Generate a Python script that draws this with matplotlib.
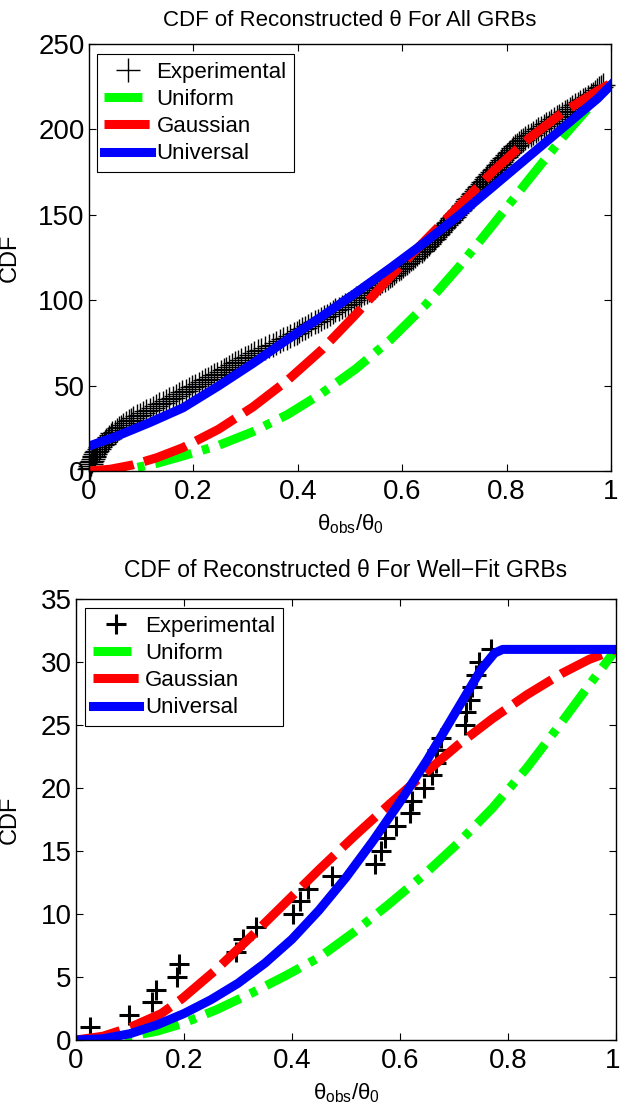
import numpy as np
import matplotlib
matplotlib.use("Agg")
import matplotlib.pyplot as plt
import matplotlib.transforms as mtransforms

plt.rcParams['font.family'] = ['Liberation Sans', 'DejaVu Sans']
plt.rcParams['mathtext.fontset'] = 'custom'
plt.rcParams['mathtext.rm'] = 'Liberation Sans'
plt.rcParams['mathtext.it'] = 'Liberation Sans'
plt.rcParams['mathtext.bf'] = 'Liberation Sans:bold'

# Data: all GRBs ----------------------------------------------------------------
# experimental theta_obs/theta_0 (sorted), one value per GRB
all_exp_x = [
    0.000, 0.001, 0.002, 0.003, 0.004, 0.006, 0.007, 0.009, 0.010, 0.012,
    0.014, 0.016, 0.019, 0.022, 0.025, 0.028, 0.031, 0.033, 0.036, 0.039,
    0.042, 0.045, 0.049, 0.053, 0.057, 0.061, 0.066, 0.071, 0.076, 0.081,
    0.085, 0.091, 0.098, 0.104, 0.110, 0.117, 0.123, 0.129, 0.135, 0.142,
    0.148, 0.154, 0.160, 0.166, 0.172, 0.179, 0.186, 0.192, 0.198, 0.204,
    0.210, 0.216, 0.222, 0.228, 0.234, 0.240, 0.246, 0.252, 0.258, 0.263,
    0.269, 0.274, 0.280, 0.286, 0.292, 0.298, 0.304, 0.310, 0.316, 0.323,
    0.330, 0.338, 0.345, 0.352, 0.358, 0.365, 0.372, 0.380, 0.386, 0.392,
    0.398, 0.403, 0.409, 0.414, 0.420, 0.426, 0.432, 0.438, 0.444, 0.450,
    0.456, 0.461, 0.467, 0.472, 0.478, 0.484, 0.490, 0.496, 0.501, 0.507,
    0.512, 0.517, 0.522, 0.527, 0.532, 0.537, 0.542, 0.547, 0.552, 0.557,
    0.562, 0.567, 0.572, 0.577, 0.581, 0.585, 0.589, 0.593, 0.597, 0.601,
    0.605, 0.609, 0.613, 0.617, 0.621, 0.625, 0.629, 0.633, 0.637, 0.641,
    0.644, 0.648, 0.651, 0.654, 0.657, 0.660, 0.663, 0.666, 0.669, 0.672,
    0.675, 0.678, 0.681, 0.684, 0.687, 0.690, 0.693, 0.696, 0.699, 0.702,
    0.705, 0.708, 0.711, 0.714, 0.716, 0.719, 0.722, 0.724, 0.727, 0.730,
    0.733, 0.736, 0.738, 0.741, 0.744, 0.747, 0.749, 0.752, 0.755, 0.758,
    0.760, 0.763, 0.766, 0.769, 0.772, 0.775, 0.778, 0.781, 0.784, 0.787,
    0.789, 0.792, 0.795, 0.798, 0.801, 0.804, 0.807, 0.810, 0.813, 0.816,
    0.820, 0.824, 0.828, 0.832, 0.836, 0.841, 0.846, 0.851, 0.856, 0.861,
    0.866, 0.871, 0.876, 0.881, 0.886, 0.891, 0.896, 0.901, 0.906, 0.911,
    0.916, 0.921, 0.926, 0.931, 0.936, 0.941, 0.946, 0.951, 0.956, 0.961,
    0.965, 0.969, 0.973, 0.977, 0.981, 0.985]

all_uni_x = [0.0, 0.04, 0.083, 0.13, 0.18, 0.248, 0.314, 0.38, 0.446, 0.512, 0.578,
             0.644, 0.71, 0.776, 0.842, 0.908, 0.974, 1.0]
all_uni_y = [0.0, 0.4, 1.5, 4.5, 8.8, 15.0, 23.0, 33.0, 45.5, 60.0, 77.0,
             97.0, 120.0, 145.0, 170.5, 195.5, 218.5, 226.5]

all_gau_x = [0.0, 0.04, 0.083, 0.13, 0.18, 0.248, 0.314, 0.38, 0.446, 0.512, 0.578,
             0.644, 0.71, 0.776, 0.842, 0.908, 0.974, 1.0]
all_gau_y = [0.0, 1.0, 3.5, 7.8, 13.7, 24.4, 37.5, 53.0, 71.0, 92.0, 114.0,
             135.0, 155.5, 176.0, 194.5, 210.0, 222.5, 227.0]

all_unv_x = [0.0, 0.05, 0.116, 0.18, 0.248, 0.314, 0.38, 0.446, 0.512, 0.578,
             0.644, 0.71, 0.776, 0.842, 0.908, 0.974, 1.0]
all_unv_y = [14.6, 20.0, 28.3, 37.0, 49.8, 63.0, 77.0, 90.5, 104.5, 119.0,
             134.0, 150.0, 167.0, 184.0, 201.0, 218.0, 226.0]

# Data: well-fit GRBs -----------------------------------------------------------
well_exp_x = [0.026, 0.098, 0.140, 0.149, 0.187, 0.190, 0.296, 0.310, 0.334, 0.401,
              0.414, 0.430, 0.474, 0.554, 0.564, 0.573, 0.593, 0.618, 0.623, 0.644,
              0.660, 0.666, 0.669, 0.676, 0.720, 0.723, 0.730, 0.733, 0.740, 0.746,
              0.768]

well_uni_x = [0.0, 0.05, 0.1, 0.15, 0.197, 0.26, 0.324, 0.388, 0.452, 0.516,
              0.58, 0.644, 0.707, 0.771, 0.835, 0.899, 0.963, 1.0]
well_uni_y = [0.0, 0.0, 0.3, 0.7, 1.3, 2.4, 3.7, 5.1, 6.6, 8.6,
              10.8, 13.1, 15.6, 18.4, 21.6, 25.2, 28.9, 31.0]

well_gau_x = [0.0, 0.05, 0.1, 0.158, 0.197, 0.26, 0.324, 0.388, 0.452, 0.516,
              0.58, 0.644, 0.707, 0.771, 0.835, 0.9, 0.95, 1.0]
well_gau_y = [0.0, 0.3, 1.0, 2.1, 3.3, 5.6, 8.2, 10.9, 13.6, 16.2,
              18.7, 21.1, 23.4, 25.5, 27.4, 29.1, 30.2, 31.0]

well_unv_x = [0.0, 0.05, 0.1, 0.15, 0.2, 0.25, 0.3, 0.35, 0.4, 0.45, 0.5,
              0.55, 0.6, 0.65, 0.7, 0.75, 0.775, 0.79, 0.85, 1.0]
well_unv_y = [0.0, 0.1, 0.5, 1.2, 2.1, 3.2, 4.5, 6.1, 8.0, 10.3, 12.9,
              15.8, 18.9, 22.2, 25.8, 29.4, 30.7, 31.0, 31.0, 31.0]

x_ticks = [0, 0.2, 0.4, 0.6, 0.8, 1]
x_ticklabels = ['0', '0.2', '0.4', '0.6', '0.8', '1']
top_yticks = [0, 50, 100, 150, 200, 250]
bot_yticks = [0, 5, 10, 15, 20, 25, 30, 35]

labels = ['Experimental', 'Uniform', 'Gaussian', 'Universal']


def style_axes(ax, yticks, ylab_x):
    ax.set_xlim(0, 1)
    ax.set_ylim(yticks[0], yticks[-1])
    ax.set_xticks(x_ticks)
    ax.set_xticklabels(x_ticklabels)
    ax.set_yticks(yticks)
    ax.set_yticklabels([str(v) for v in yticks])
    ax.tick_params(direction='in', length=5, width=0.8, top=True, right=True,
                   labelsize=20)
    ax.tick_params(axis='x', pad=6)
    ax.tick_params(axis='y', pad=3)
    for s in ax.spines.values():
        s.set_linewidth(1.0)
    ax.set_xlabel(r'$\theta_{\mathrm{obs}}/\theta_0$', fontsize=16, labelpad=5)
    ax.set_ylabel('CDF', fontsize=17)
    ax.yaxis.set_label_coords(ylab_x, 0.5)


def add_legend(ax, anchor):
    leg = ax.legend(loc='upper left', bbox_to_anchor=anchor, borderaxespad=0,
                    fontsize=16, handlelength=2.1, handletextpad=0.25,
                    labelspacing=0.28, borderpad=0.35, fancybox=False,
                    edgecolor='k', framealpha=1)
    leg.get_frame().set_linewidth(0.8)


fig = plt.figure(figsize=(6.21, 11.09), dpi=100)

# Top plot ---------------------------------------------------------------------
ax1 = fig.add_axes([89/621, 1-471/1109, 522/621, 427/1109])
ranks_all = np.arange(1, len(all_exp_x) + 1)
ax1.plot(all_exp_x, ranks_all, '+', color='k', ms=17, mew=1.0, clip_on=False,
         label=labels[0])
ax1.plot(all_uni_x, all_uni_y, color='#00ff00', lw=6.5, dashes=(4.2, 1.2, 0.8, 1.2),
         label=labels[1])
ax1.plot(all_gau_x, all_gau_y, color='red', lw=6.5, dashes=(5, 1.2),
         label=labels[2])
ax1.plot(all_unv_x, all_unv_y, color='blue', lw=6.5, label=labels[3])
style_axes(ax1, top_yticks, -0.130)
ax1.set_title(u'CDF of Reconstructed \u03b8 For All GRBs', fontsize=16, pad=13)
add_legend(ax1, (0.0144, 0.9766))

# Bottom plot -------------------------------------------------------------------
ax2 = fig.add_axes([76/621, 1-1040/1109, 540/621, 441/1109])
ranks_well = np.arange(1, len(well_exp_x) + 1)
ax2.plot(well_exp_x, ranks_well, '+', color='k', ms=15, mew=2.2, clip_on=False,
         label=labels[0])
ax2.plot(well_uni_x, well_uni_y, color='#00ff00', lw=6.5, dashes=(4.2, 1.2, 0.8, 1.2),
         label=labels[1])
ax2.plot(well_gau_x, well_gau_y, color='red', lw=6.5, dashes=(5, 1.2),
         label=labels[2])
ax2.plot(well_unv_x, well_unv_y, color='blue', lw=6.5, label=labels[3])
style_axes(ax2, bot_yticks, -0.102)
ax2.set_title(u'CDF of Reconstructed \u03b8 For Well\u2212Fit GRBs', fontsize=16.5, pad=16)
add_legend(ax2, (0.0167, 0.9796))

# last x tick label sits at the figure edge; nudge it slightly left
last = ax2.get_xticklabels()[-1]
last.set_transform(last.get_transform() +
                   mtransforms.ScaledTranslation(-3/100, 0, fig.dpi_scale_trans))

fig.savefig('out.png', dpi=100)
